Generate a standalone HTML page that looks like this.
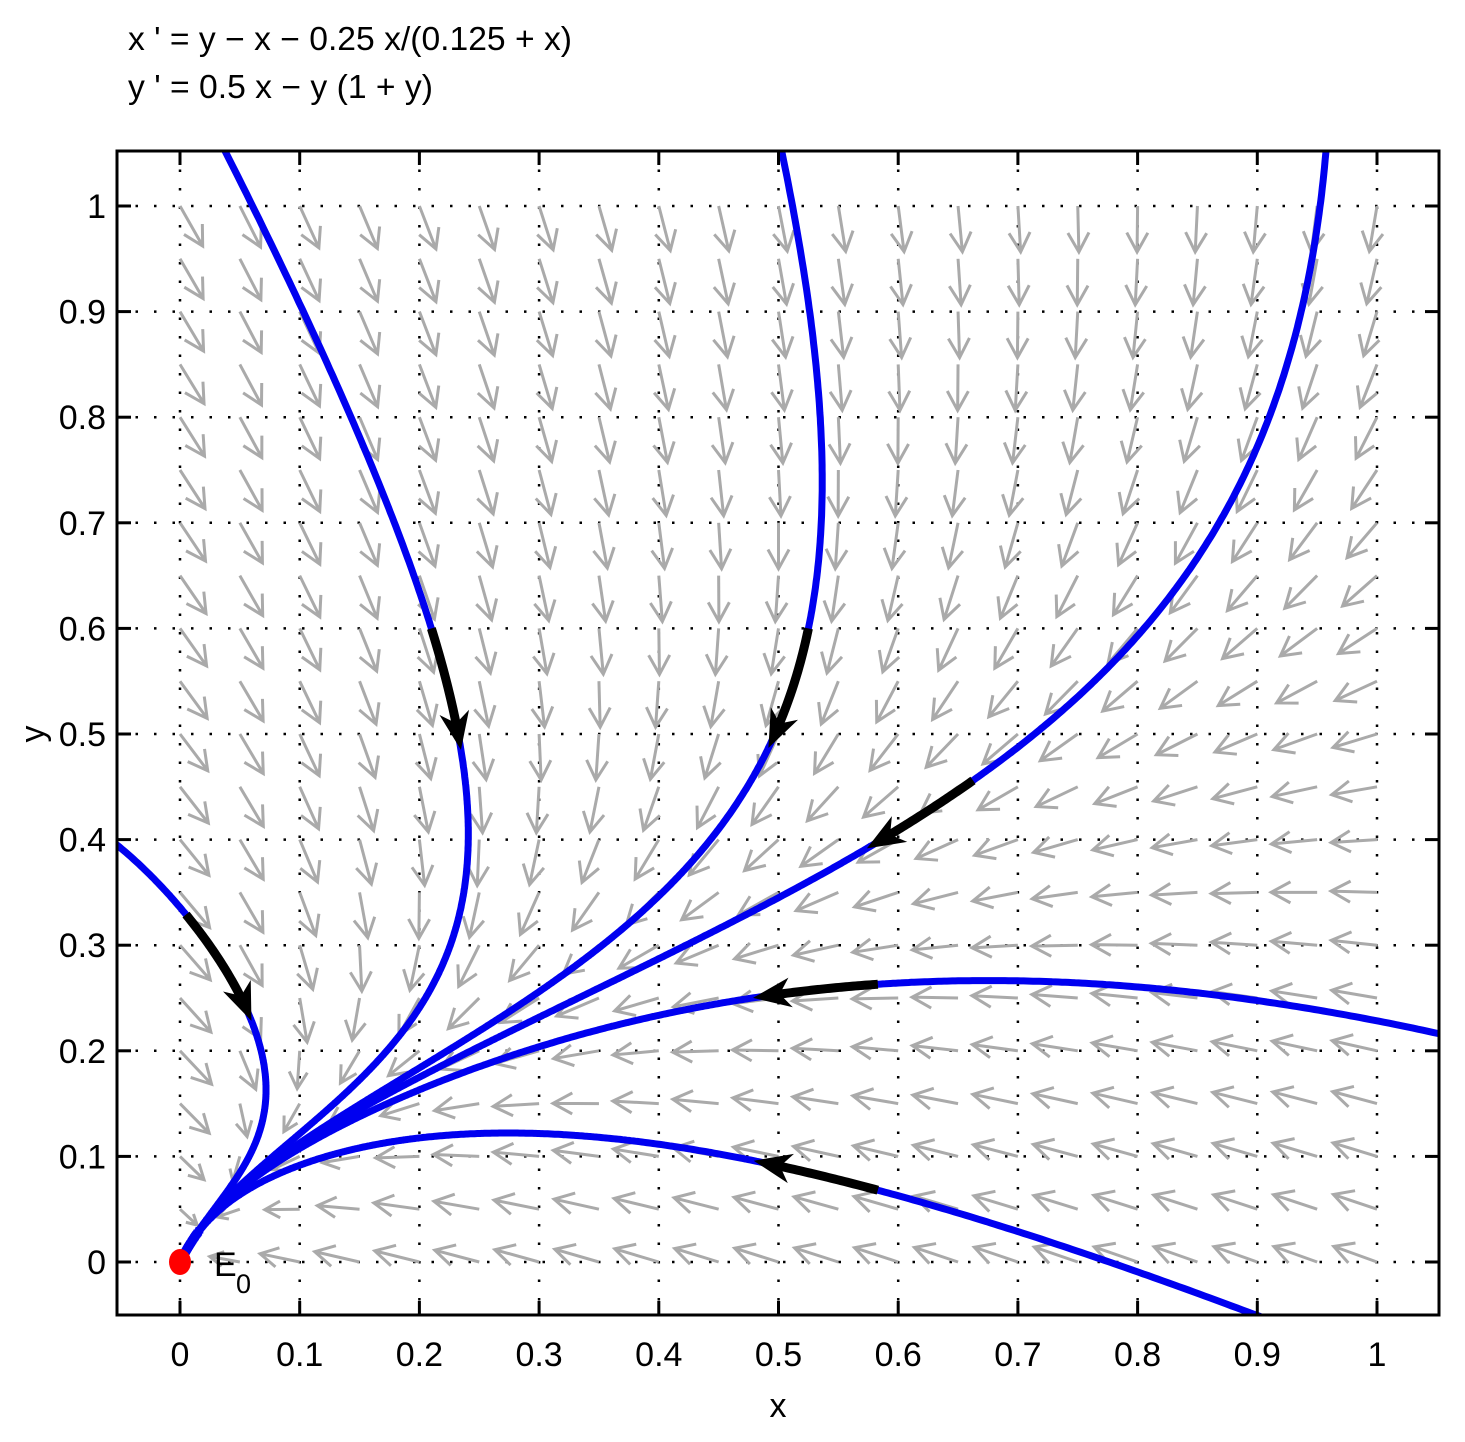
<!DOCTYPE html>
<html><head><meta charset="utf-8"><style>
body{margin:0;background:#fff;}
svg text{font-family:"Liberation Sans",sans-serif;}
</style></head><body>
<svg id="chart" width="1465" height="1437" xmlns="http://www.w3.org/2000/svg">
<text x="128" y="50" font-size="33" textLength="444" lengthAdjust="spacingAndGlyphs">x ' = y − x − 0.25 x/(0.125 + x)</text>
<text x="128" y="98" font-size="33" textLength="305" lengthAdjust="spacingAndGlyphs">y ' = 0.5 x − y (1 + y)</text>
<defs><clipPath id="pc"><rect x="117" y="151" width="1322" height="1164"/></clipPath></defs>
<g id="grid"></g>
<g id="field"></g>
<g id="traj" clip-path="url(#pc)"></g>
<g id="arrows"></g>
<ellipse cx="180" cy="1262" rx="11" ry="13" fill="#f00"/>
<text x="214" y="1276" font-size="34">E</text>
<text x="236" y="1293" font-size="27">0</text>
<rect x="117" y="151" width="1322" height="1164" fill="none" stroke="#000" stroke-width="3"/>
<g id="ticks"></g>
<text x="778" y="1417" font-size="34" text-anchor="middle">x</text>
<text x="44" y="734" font-size="34" text-anchor="middle" transform="rotate(-90 44 734)">y</text>
</svg>
<script>
const xTicks=[0,0.1,0.2,0.3,0.4,0.5,0.6,0.7,0.8,0.9,1];
const yTicks=[0,0.1,0.2,0.3,0.4,0.5,0.6,0.7,0.8,0.9,1];
const startX=[0.005,0.21,0.525,0.6625,0.583,0.583];
const startY=[0.329,0.6,0.6,0.456,0.263,0.068];
const X0=-0.05,X1=1.05,Y0=-0.05,Y1=1.05;
const sx=v=>180+(v-0)*1197, sy=v=>1262-v*1056;
const NS="http://www.w3.org/2000/svg";
function mk(tag,attrs,parent){const e=document.createElementNS(NS,tag);for(const k in attrs)e.setAttribute(k,attrs[k]);parent.appendChild(e);return e;}
const F=(x,y)=>[y-x-0.25*x/(0.125+x), 0.5*x-y*(1+y)];
const grid=document.getElementById('grid'),ticks=document.getElementById('ticks');
xTicks.forEach(t=>{
 const l=mk('line',{x1:sx(t),x2:sx(t),y1:151,y2:1315,stroke:'#000','stroke-width':2.5,'stroke-dasharray':'2.5 16'},grid);
 
 const a=mk('line',{x1:sx(t),x2:sx(t),y1:151,y2:165,stroke:'#000','stroke-width':3},ticks);
 
 const b=mk('line',{x1:sx(t),x2:sx(t),y1:1301,y2:1315,stroke:'#000','stroke-width':3},ticks);
 
 const tx=mk('text',{x:sx(t),y:1366,'font-size':34,'text-anchor':'middle'},ticks);tx.textContent=String(t);
 
});
yTicks.forEach(t=>{
 const l=mk('line',{x1:117,x2:1439,y1:sy(t),y2:sy(t),stroke:'#000','stroke-width':2.5,'stroke-dasharray':'2.5 16'},grid);
 
 const a=mk('line',{x1:117,x2:131,y1:sy(t),y2:sy(t),stroke:'#000','stroke-width':3},ticks);
 
 const b=mk('line',{x1:1425,x2:1439,y1:sy(t),y2:sy(t),stroke:'#000','stroke-width':3},ticks);
 
 const tx=mk('text',{x:106,y:sy(t)+12,'font-size':34,'text-anchor':'end'},ticks);tx.textContent=String(t);
 
});
const field=document.getElementById('field');
for(let i=0;i<=20;i++)for(let j=0;j<=20;j++){
 const x=i*0.05,y=j*0.05;const [f,g]=F(x,y);
 const dx=f*1197,dy=-g*1056,m=Math.hypot(dx,dy);if(m<1e-9)continue;
 const mag=Math.hypot(f,g);const L=46*Math.min(1,Math.sqrt(mag/0.28));
 const ux=dx/m,uy=dy/m;const px=sx(x),py=sy(y),ex=px+ux*L,ey=py+uy*L;
 const h=Math.min(22,L*0.5),c=Math.cos(0.5),s=Math.sin(0.5);
 const b1x=ex-h*(ux*c-uy*s),b1y=ey-h*(uy*c+ux*s),b2x=ex-h*(ux*c+uy*s),b2y=ey-h*(uy*c-ux*s);
 const p=mk('path',{d:`M${px},${py}L${ex},${ey}M${b1x},${b1y}L${ex},${ey}L${b2x},${b2y}`,stroke:'#aaa','stroke-width':3,fill:'none'},field);
 
}
function rk(x,y,h){const k1=F(x,y),k2=F(x+h/2*k1[0],y+h/2*k1[1]),k3=F(x+h/2*k2[0],y+h/2*k2[1]),k4=F(x+h*k3[0],y+h*k3[1]);
 return [x+h/6*(k1[0]+2*k2[0]+2*k3[0]+k4[0]),y+h/6*(k1[1]+2*k2[1]+2*k3[1]+k4[1])];}
function integ(x,y,dir,maxT){const pts=[[x,y]];let t=0;const h=0.004*dir;
 while(t<maxT){[x,y]=rk(x,y,h);t+=0.004;pts.push([x,y]);
  if(x<X0-0.02||x>X1+0.02||y<Y0-0.02||y>Y1+0.02||x<=-0.12)break;}
 return pts;}
const traj=document.getElementById('traj'),arr=document.getElementById('arrows');
for(let k=0;k<startX.length;k++){
 const b=integ(startX[k],startY[k],-1,20).reverse(),f=integ(startX[k],startY[k],1,60);
 const pts=b.concat(f.slice(1));
 const d='M'+pts.map(p=>sx(p[0]).toFixed(1)+','+sy(p[1]).toFixed(1)).join('L');
 const pl=mk('path',{d:d,stroke:'#0000f0','stroke-width':7,fill:'none'},traj);
 
 let len=0,i=1,ps=[[sx(f[0][0]),sy(f[0][1])]];
 while(i<f.length&&len<125){const a=[sx(f[i][0]),sy(f[i][1])];len+=Math.hypot(a[0]-ps[ps.length-1][0],a[1]-ps[ps.length-1][1]);ps.push(a);i++;}
 const e=ps[ps.length-1],q=ps[Math.max(0,ps.length-8)];let ux=e[0]-q[0],uy=e[1]-q[1];const m=Math.hypot(ux,uy)||1;ux/=m;uy/=m;
 const bx=e[0]-ux*38,by=e[1]-uy*38;
 const shaft=ps.filter(p=>Math.hypot(p[0]-e[0],p[1]-e[1])>22);
 const sp=mk('path',{d:'M'+shaft.map(p=>p[0]+','+p[1]).join('L'),stroke:'#000','stroke-width':9,fill:'none'},arr);
 
 const hd=mk('path',{d:`M${e[0]},${e[1]}L${bx-uy*15},${by+ux*15}L${e[0]-ux*27},${e[1]-uy*27}L${bx+uy*15},${by-ux*15}Z`,fill:'#000'},arr);
 
}
</script>
</body></html>
